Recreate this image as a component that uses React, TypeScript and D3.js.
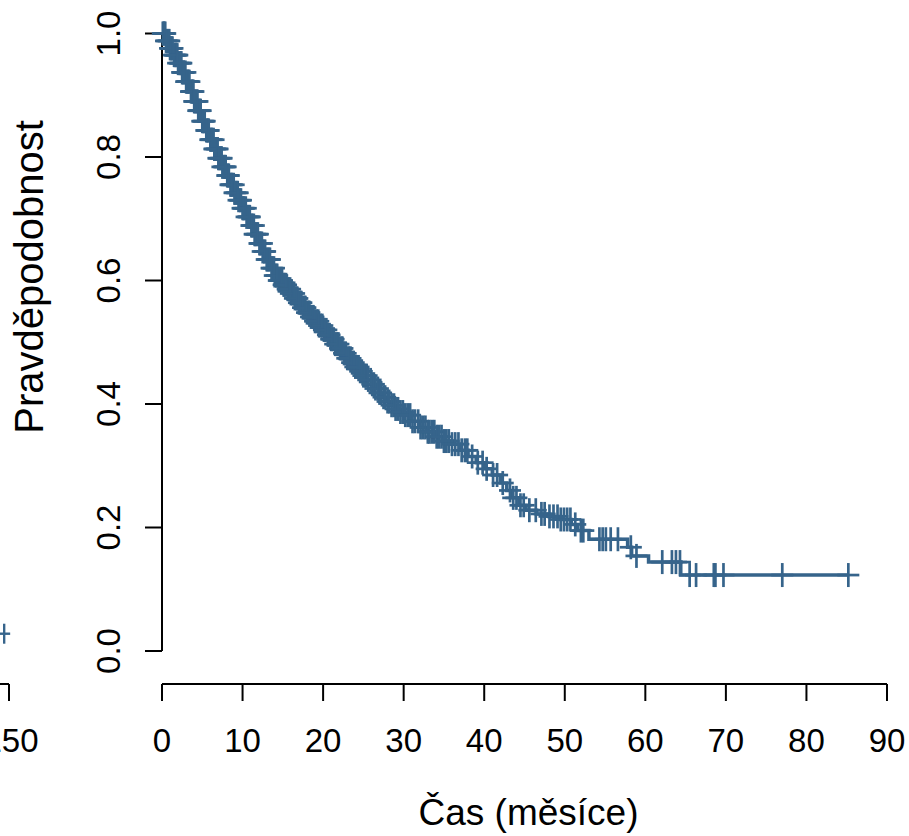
import React from "react";
import * as d3 from "d3";

const stepTimes = [0, 0.5, 1, 1.5, 2, 2.5, 3, 3.5, 4, 4.5, 5, 5.5, 6, 6.5, 7, 7.5, 8, 8.5, 9, 9.5, 10, 10.5, 11, 11.5, 12, 12.5, 13, 13.5, 14, 14.5, 15, 15.5, 16, 16.5, 17, 17.5, 18, 18.5, 19, 19.5, 20, 20.5, 21, 21.5, 22, 22.5, 23, 23.5, 24, 24.5, 25, 25.5, 26, 26.5, 27, 27.5, 28, 28.5, 29, 29.5, 30, 31, 32, 33, 34, 35, 36, 37, 38, 39, 40, 41, 42, 42.8, 43.5, 44.3, 45.2, 46.5, 48, 49.5, 50.8, 51.6, 53, 57.8, 58.3, 60.4, 64.4];
const stepSurv = [1.0, 0.988, 0.976, 0.965, 0.952, 0.937, 0.922, 0.906, 0.89, 0.875, 0.858, 0.843, 0.828, 0.813, 0.798, 0.784, 0.77, 0.755, 0.742, 0.73, 0.717, 0.703, 0.689, 0.675, 0.66, 0.647, 0.634, 0.62, 0.608, 0.6, 0.593, 0.586, 0.579, 0.571, 0.564, 0.556, 0.548, 0.541, 0.534, 0.527, 0.52, 0.512, 0.505, 0.497, 0.49, 0.482, 0.474, 0.467, 0.46, 0.453, 0.446, 0.439, 0.432, 0.425, 0.418, 0.411, 0.404, 0.398, 0.392, 0.387, 0.382, 0.372, 0.362, 0.355, 0.347, 0.34, 0.335, 0.325, 0.315, 0.305, 0.295, 0.285, 0.272, 0.26, 0.248, 0.236, 0.228, 0.222, 0.218, 0.213, 0.205, 0.195, 0.181, 0.168, 0.154, 0.144, 0.123];
const endTime = 85.2;

const censorTimes = [0.1, 0.2, 0.3, 0.4, 0.5, 0.6, 0.8, 0.9, 1.0, 1.1, 1.2, 1.3, 1.5, 1.6, 1.7, 1.8, 1.9, 2.0, 2.2, 2.3, 2.4, 2.5, 2.6, 2.7, 2.9, 3.0, 3.1, 3.2, 3.3, 3.4, 3.6, 3.7, 3.8, 3.9, 4.0, 4.1, 4.3, 4.4, 4.5, 4.6, 4.7, 4.8, 5.0, 5.1, 5.2, 5.3, 5.5, 5.6, 5.7, 5.8, 6.0, 6.1, 6.2, 6.4, 6.5, 6.6, 6.8, 6.9, 7.0, 7.1, 7.3, 7.4, 7.5, 7.7, 7.8, 7.9, 8.1, 8.2, 8.3, 8.5, 8.6, 8.7, 8.9, 9.0, 9.1, 9.3, 9.4, 9.5, 9.7, 9.8, 10.0, 10.1, 10.2, 10.4, 10.5, 10.7, 10.8, 10.9, 11.1, 11.2, 11.4, 11.5, 11.6, 11.8, 11.9, 12.1, 12.2, 12.4, 12.5, 12.7, 12.8, 13.0, 13.1, 13.3, 13.4, 13.6, 13.7, 13.9, 14.0, 14.2, 14.3, 14.5, 14.6, 14.8, 14.9, 15.1, 15.2, 15.4, 15.6, 15.7, 15.9, 16.0, 16.2, 16.4, 16.5, 16.7, 16.8, 17.0, 17.2, 17.3, 17.5, 17.7, 17.8, 18.0, 18.2, 18.3, 18.5, 18.7, 18.8, 19.0, 19.2, 19.4, 19.5, 19.7, 19.9, 20.1, 20.2, 20.4, 20.6, 20.8, 21.0, 21.1, 21.3, 21.5, 21.7, 21.9, 22.1, 22.3, 22.4, 22.6, 22.8, 23.0, 23.2, 23.4, 23.6, 23.8, 24.0, 24.2, 24.4, 24.6, 24.8, 25.0, 25.2, 25.4, 25.6, 25.9, 26.1, 26.3, 26.5, 26.8, 27.0, 27.2, 27.5, 27.7, 28.0, 28.2, 28.5, 28.8, 29.0, 29.3, 29.6, 29.9, 30.2, 30.5, 30.8, 31.1, 31.4, 31.8, 32.1, 32.4, 32.7, 33.0, 33.2, 33.5, 33.8, 34.1, 34.4, 34.7, 35.0, 35.3, 35.6, 36.0, 36.4, 36.8, 37.2, 37.6, 37.9, 38.5, 39.2, 39.8, 40.3, 41.1, 41.6, 42.3, 43.2, 43.6, 44.0, 44.5, 44.9, 45.6, 46.4, 47.1, 47.5, 48.1, 48.6, 49.1, 49.5, 49.9, 50.3, 50.7, 51.3, 52.0, 52.3, 54.3, 54.7, 55.1, 55.7, 56.6, 58.2, 58.9, 62.1, 63.3, 63.8, 64.3, 65.5, 66.3, 68.5, 68.7, 69.7, 77.0, 85.2];

const xTicks = [0, 10, 20, 30, 40, 50, 60, 70, 80, 90];
const yTicks = [0, 0.2, 0.4, 0.6, 0.8, 1.0];
const xLabel = "Čas (měsíce)";
const yLabel = "Pravděpodobnost";

// partial neighbouring panel visible at the left edge
const leftPanelTicks = [150];
const leftPanelCensor = [149];
const leftPanelSurv = [0.028];

const COLOR = "#36648B";
const FONT = "'Liberation Sans', Arial, Helvetica, sans-serif";

function survAt(t: number) {
  let s = stepSurv[0];
  for (let i = 0; i < stepTimes.length; i++) {
    if (stepTimes[i] <= t) s = stepSurv[i];
  }
  return s;
}

export default function App() {
  const W = 909, H = 836;
  const x = d3.scaleLinear().domain([0, 90]).range([162, 887]);
  const y = d3.scaleLinear().domain([0, 1]).range([651, 33.5]);
  const xl = d3.scaleLinear().domain([0, 150]).range([-715, 9]);

  const pts: [number, number][] = stepTimes.map((t, i) => [t, stepSurv[i]]);
  pts.push([endTime, stepSurv[stepSurv.length - 1]]);
  const line = d3.line<[number, number]>().x(d => x(d[0])).y(d => y(d[1])).curve(d3.curveStepAfter);

  const axisY = 684;
  const tickLen = 17;
  const h = 11;

  return (
    <svg width={W} height={H} style={{ position: "absolute", left: 0, top: 0, background: "#fff" }} fontFamily={FONT}>
      <rect x={0} y={0} width={W} height={H} fill="#fff" />
      {/* left partial panel */}
      <g>
        <line x1={xl(140)} x2={xl(150)} y1={axisY} y2={axisY} stroke="#000" strokeWidth={2} />
        {leftPanelTicks.map(t => (
          <g key={t}>
            <line x1={xl(t)} x2={xl(t)} y1={axisY} y2={axisY + tickLen} stroke="#000" strokeWidth={2} />
            <text x={xl(t) + 2} y={752} fontSize={33} textAnchor="middle">{t}</text>
          </g>
        ))}
        {leftPanelCensor.map((t, i) => (
          <g key={i} stroke={COLOR} strokeWidth={2.4}>
            <line x1={xl(t) - 6} x2={xl(t) + 6} y1={y(leftPanelSurv[i])} y2={y(leftPanelSurv[i])} />
            <line x1={xl(t)} x2={xl(t)} y1={y(leftPanelSurv[i]) - 10} y2={y(leftPanelSurv[i]) + 10} />
          </g>
        ))}
      </g>

      {/* x axis */}
      <line x1={x(0)} x2={x(90)} y1={axisY} y2={axisY} stroke="#000" strokeWidth={2} />
      {xTicks.map(t => (
        <g key={t}>
          <line x1={x(t)} x2={x(t)} y1={axisY} y2={axisY + tickLen} stroke="#000" strokeWidth={2} />
          <text x={x(t)} y={752} fontSize={33} textAnchor="middle">{t}</text>
        </g>
      ))}
      <text x={(x(0) + x(90)) / 2 + 4} y={825} fontSize={37} textAnchor="middle">{xLabel}</text>

      {/* y axis */}
      <line x1={162} x2={162} y1={y(0)} y2={y(1)} stroke="#000" strokeWidth={2} />
      {yTicks.map(t => (
        <g key={t}>
          <line x1={162} x2={162 - tickLen} y1={y(t)} y2={y(t)} stroke="#000" strokeWidth={2} />
          <text transform={`translate(120,${y(t)}) rotate(-90)`} fontSize={33} textAnchor="middle">{t.toFixed(1)}</text>
        </g>
      ))}
      <text transform={`translate(43,277) rotate(-90)`} fontSize={40} textAnchor="middle">{yLabel}</text>

      {/* KM curve */}
      <path d={line(pts) || ""} fill="none" stroke={COLOR} strokeWidth={3.5} />
      {censorTimes.map((t, i) => {
        const cx = x(t), cy = y(survAt(t));
        return (
          <g key={i} stroke={COLOR} strokeWidth={2.7}>
            <line x1={cx - h} x2={cx + h} y1={cy} y2={cy} />
            <line x1={cx} x2={cx} y1={cy - h - 1} y2={cy + h + 1} />
          </g>
        );
      })}
    </svg>
  );
}
